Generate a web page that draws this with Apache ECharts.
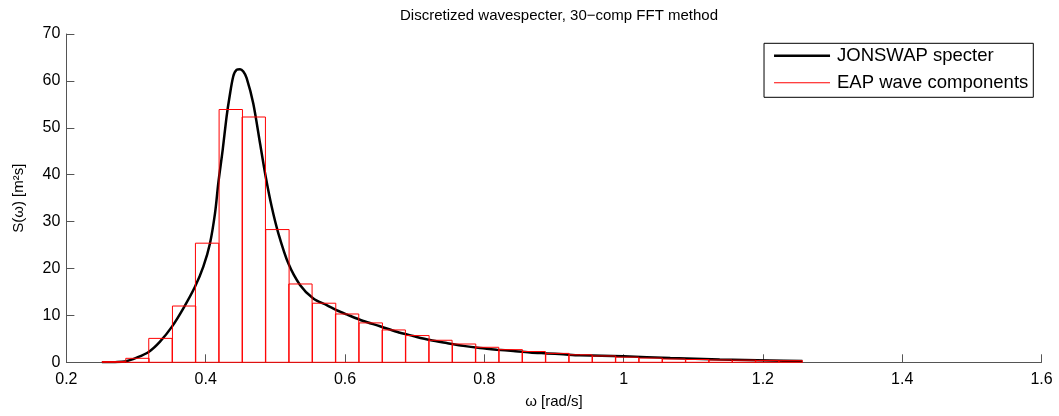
<!DOCTYPE html>
<html>
<head>
<meta charset="utf-8">
<script src="https://cdn.jsdelivr.net/npm/echarts@6/dist/echarts.min.js"></script>
<style>
  html, body { margin: 0; padding: 0; background: #fff; }
  #chart { width: 1059px; height: 416px; }
</style>
</head>
<body>
<div id="chart"></div>
<script>
// spektrum (lest av figuren)
var specOmega = [0.251, 0.270, 0.284, 0.301, 0.3186, 0.3344, 0.3516, 0.3679, 0.3846, 0.3966,
    0.4062, 0.4134, 0.4181, 0.4244, 0.4301, 0.4339, 0.4396, 0.4445, 0.4493, 0.454,
    0.4588, 0.4683, 0.478, 0.4861, 0.4947, 0.5043, 0.5186, 0.5354, 0.5545, 0.5737,
    0.5928, 0.6024, 0.6263, 0.6502, 0.6742, 0.698, 0.722, 0.746, 0.7699, 0.7938,
    0.8178, 0.8417, 0.8656, 0.8896, 0.9134, 0.9374, 0.9996, 1.067, 1.138, 1.21, 1.2567];
var specS = [0.0, 0.03, 0.15, 1.0, 2.26, 4.4, 7.6, 11.5, 16.1, 20.4,
    25.4, 31.8, 38.2, 45.3, 52.5, 56.3, 61.0, 62.4, 62.5, 62.0,
    60.6, 55.2, 46.7, 39.6, 33.2, 27.5, 21.1, 16.5, 13.6, 12.2,
    10.8, 10.2, 8.8, 7.7, 6.5, 5.6, 4.75, 4.1, 3.5, 3.05,
    2.7, 2.4, 2.1, 1.9, 1.7, 1.5, 1.3, 0.9, 0.6, 0.4, 0.3];

// 30 komponenter
var dOmega = 0.0335;
var compOmega = [0.268, 0.302, 0.335, 0.369, 0.402, 0.436, 0.469, 0.503, 0.536, 0.570,
    0.603, 0.637, 0.670, 0.704, 0.737, 0.771, 0.804, 0.838, 0.871, 0.905,
    0.938, 0.972, 1.005, 1.039, 1.072, 1.106, 1.139, 1.173, 1.206, 1.240];
var compS = [0.15, 0.85, 5.1, 12.0, 25.4, 53.9, 52.3, 28.3, 16.7, 12.6,
    10.3, 8.4, 6.9, 5.7, 4.7, 3.9, 3.2, 2.7, 2.3, 1.9,
    1.6, 1.35, 1.1, 0.9, 0.7, 0.6, 0.5, 0.45, 0.4, 0.35];

var xTicks = { min: 0.2, max: 1.6, step: 0.2 };
var yTicks = { min: 0, max: 70, step: 10 };

var font = "'Liberation Sans', Arial, sans-serif";
var axisColor = '#555';

var chart = echarts.init(document.getElementById('chart'));

var lineData = specOmega.map(function(w, i){ return [w, specS[i]]; });
var barData = compOmega.map(function(w, i){ return [w, compS[i]]; });

var option = {
    animation: false,
    title: {
        text: 'Discretized wavespecter, 30\u2212comp FFT method',
        left: 554,
        top: 3,
        textAlign: 'center',
        textStyle: { fontFamily: font, fontSize: 15, fontWeight: 'normal', color: '#000' }
    },
    grid: { left: 66.4, right: 17.5, top: 34, bottom: 53.7 },
    legend: {
        orient: 'vertical',
        right: 25.7,
        top: 43.3,
        padding: [3, 5, 5, 10],
        itemGap: 8,
        itemWidth: 56,
        itemHeight: 14,
        symbolKeepAspect: true,
        backgroundColor: '#fff',
        borderColor: '#000',
        borderWidth: 1,
        borderRadius: 0,
        textStyle: { fontFamily: font, fontSize: 18.5, color: '#000', padding: [0, 0, 0, 2] },
        data: [
            { name: 'JONSWAP specter', icon: 'path://M0 0H56V2.5H0Z', itemStyle: { color: '#000' } },
            { name: 'EAP wave components', icon: 'path://M0 0H56V1H0Z', itemStyle: { color: '#ff0000' } }
        ]
    },
    xAxis: {
        type: 'value',
        min: xTicks.min, max: xTicks.max, interval: xTicks.step,
        name: '\u03c9 [rad/s]',
        nameLocation: 'middle',
        nameGap: 32,
        nameTextStyle: { fontFamily: font, fontSize: 15, color: '#000' },
        axisLine: { show: true, lineStyle: { color: axisColor, width: 1 } },
        axisTick: { show: true, inside: true, length: 8, lineStyle: { color: axisColor } },
        axisLabel: { fontFamily: font, fontSize: 16, color: '#000', margin: 9 },
        splitLine: { show: false }
    },
    yAxis: {
        type: 'value',
        min: yTicks.min, max: yTicks.max, interval: yTicks.step,
        name: 'S(\u03c9) [m\u00b2s]',
        nameLocation: 'middle',
        nameGap: 40,
        nameRotate: 90,
        nameTextStyle: { fontFamily: font, fontSize: 15, color: '#000' },
        axisLine: { show: true, lineStyle: { color: axisColor, width: 1 } },
        axisTick: { show: true, inside: true, length: 8, lineStyle: { color: axisColor } },
        axisLabel: { fontFamily: font, fontSize: 16, color: '#000', margin: 6 },
        splitLine: { show: false }
    },
    series: [
        {
            name: 'JONSWAP specter',
            type: 'line',
            data: lineData,
            smooth: 0.3,
            showSymbol: false,
            symbol: 'none',
            lineStyle: { color: '#000', width: 2.5 },
            itemStyle: { color: '#000' },
            z: 2
        },
        {
            name: 'EAP wave components',
            type: 'custom',
            data: barData,
            itemStyle: { color: '#ff0000' },
            z: 3,
            renderItem: function(params, api){
                var w = api.value(0), s = api.value(1);
                var p0 = api.coord([w - dOmega / 2, s]);
                var p1 = api.coord([w + dOmega / 2, 0]);
                return {
                    type: 'rect',
                    shape: { x: p0[0], y: p0[1], width: p1[0] - p0[0], height: p1[1] - p0[1] },
                    style: { fill: 'none', stroke: '#ff0000', lineWidth: 1 }
                };
            }
        }
    ]
};

chart.setOption(option);
</script>
</body>
</html>
